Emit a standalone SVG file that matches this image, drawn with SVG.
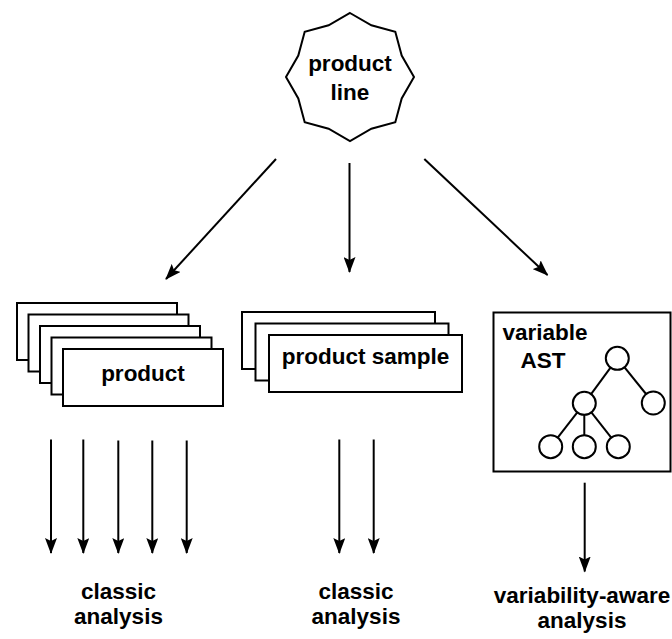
<svg xmlns="http://www.w3.org/2000/svg" width="672" height="639" viewBox="0 0 672 639">
  <style>
    .shape { fill: #ffffff; stroke: #000000; stroke-width: 2; }
    .edge { fill: none; stroke: #000000; stroke-width: 2; }
    .label { font-family: "Liberation Sans", Arial, sans-serif; font-weight: bold; font-size: 22.5px; fill: #000000; text-anchor: middle; }
  </style>
  <defs>
    <marker id="arrow" viewBox="0 0 16 12" refX="15" refY="6" markerWidth="16" markerHeight="12" markerUnits="userSpaceOnUse" orient="auto">
      <path d="M0,0 L16,6 L0,12 L3,6 z" fill="#000000"/>
    </marker>
  </defs>

  <rect width="672" height="639" fill="#ffffff"/>

  <!-- product line: eight-pointed star -->
  <g id="product-line">
    <polygon class="shape" points="350,13 371.4,25.3 395.3,31.7 401.7,55.6 414,77 401.7,98.4 395.3,122.3 371.4,128.7 350,141 328.6,128.7 304.7,122.3 298.3,98.4 286,77 298.3,55.6 304.7,31.7 328.6,25.3"/>
    <text class="label" x="350" y="71">product</text>
    <text class="label" x="350" y="100">line</text>
  </g>

  <!-- stack of products -->
  <g id="products">
    <rect class="shape" x="17" y="303" width="160" height="57"/>
    <rect class="shape" x="28.5" y="314.5" width="160" height="57"/>
    <rect class="shape" x="40" y="326" width="160" height="57"/>
    <rect class="shape" x="51.5" y="337.5" width="160" height="57"/>
    <rect class="shape" x="63" y="349" width="160" height="57"/>
    <text class="label" x="143" y="381">product</text>
  </g>

  <!-- stack of sampled products -->
  <g id="product-sample">
    <rect class="shape" x="242" y="312" width="193" height="57"/>
    <rect class="shape" x="255.5" y="323.5" width="193" height="57"/>
    <rect class="shape" x="269" y="335" width="193" height="57"/>
    <text class="label" x="365.5" y="364">product sample</text>
  </g>

  <!-- variable AST with a small tree -->
  <g id="variable-ast">
    <rect class="shape" x="493.5" y="312.5" width="177" height="159"/>
    <text class="label" x="545" y="340">variable</text>
    <text class="label" x="543" y="368">AST</text>
    <g class="edge">
      <line x1="617.3" y1="358.3" x2="584.3" y2="403.3"/>
      <line x1="617.3" y1="358.3" x2="653.3" y2="403"/>
      <line x1="584.3" y1="403.3" x2="550.7" y2="446.7"/>
      <line x1="584.3" y1="403.3" x2="584.3" y2="446.7"/>
      <line x1="584.3" y1="403.3" x2="618.3" y2="446.7"/>
    </g>
    <g class="shape">
      <circle cx="617.3" cy="358.3" r="11.5"/>
      <circle cx="584.3" cy="403.3" r="11.5"/>
      <circle cx="653.3" cy="403" r="11.5"/>
      <circle cx="550.7" cy="446.7" r="11.5"/>
      <circle cx="584.3" cy="446.7" r="11.5"/>
      <circle cx="618.3" cy="446.7" r="11.5"/>
    </g>
  </g>

  <!-- analysis labels -->
  <g id="classic-analysis-products">
    <text class="label" x="118.5" y="599">classic</text>
    <text class="label" x="118.5" y="624">analysis</text>
  </g>
  <g id="classic-analysis-sample">
    <text class="label" x="356" y="599">classic</text>
    <text class="label" x="356" y="624">analysis</text>
  </g>
  <g id="variability-aware-analysis">
    <text class="label" x="582" y="603">variability-aware</text>
    <text class="label" x="582" y="628">analysis</text>
  </g>

  <!-- connectors -->
  <g id="connectors" class="edge" marker-end="url(#arrow)">
    <line x1="276" y1="159" x2="166" y2="279"/>
    <line x1="349.5" y1="163" x2="349.5" y2="272"/>
    <line x1="424.3" y1="159" x2="547.5" y2="275"/>

    <line x1="51" y1="439.5" x2="51" y2="553"/>
    <line x1="83.3" y1="439.5" x2="83.3" y2="553"/>
    <line x1="118.3" y1="440.5" x2="118.3" y2="553"/>
    <line x1="152.3" y1="440.5" x2="152.3" y2="553"/>
    <line x1="186.7" y1="440.5" x2="186.7" y2="553"/>

    <line x1="339.3" y1="439.5" x2="339.3" y2="553"/>
    <line x1="373.7" y1="439.5" x2="373.7" y2="553"/>

    <line x1="584.7" y1="482.7" x2="584.7" y2="571.5"/>
  </g>
</svg>
